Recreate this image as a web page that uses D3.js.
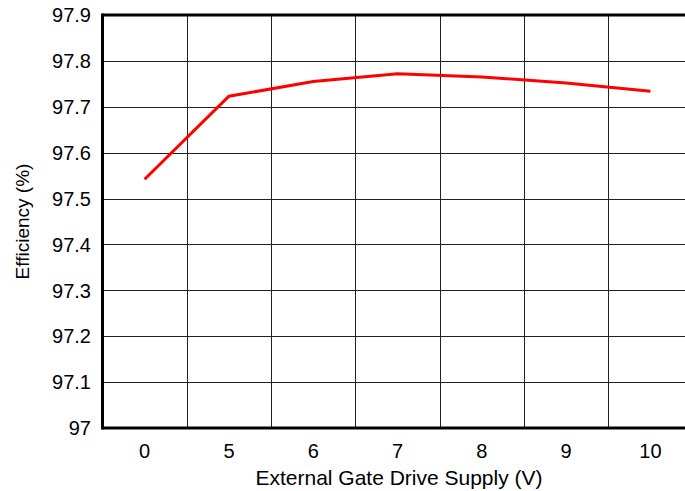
<!DOCTYPE html>
<html>
<head>
<meta charset="utf-8">
<script src="https://cdn.jsdelivr.net/npm/d3@7"></script>
<style>
  body { margin: 0; background: #fff; }
  svg { display: block; font-family: "Liberation Sans", Arial, sans-serif; }
</style>
</head>
<body>
<script>
// chart values
let supplies = ["0", "5", "6", "7", "8", "9", "10"];
let efficiency = [97.542, 97.723, 97.755, 97.772, 97.765, 97.752, 97.734];
let yTicks = [97, 97.1, 97.2, 97.3, 97.4, 97.5, 97.6, 97.7, 97.8, 97.9];

let width = 685, height = 491;
let plotLeft = 102.5, plotTop = 15, plotBottom = 428;
let bandW = 84.3;

let svg = d3.select("body").append("svg")
    .attr("width", width)
    .attr("height", height);

let x = d3.scaleBand()
    .domain(supplies)
    .range([plotLeft, plotLeft + bandW * supplies.length])
    .padding(0);

let y = d3.scaleLinear()
    .domain([97, 97.9])
    .range([plotBottom, plotTop]);

// grid lines
let grid = svg.append("g").attr("shape-rendering", "crispEdges");

grid.selectAll("line.h")
    .data(yTicks.slice(1, -1))
    .join("line")
    .attr("class", "h")
    .attr("x1", plotLeft).attr("x2", width)
    .attr("y1", d => Math.round(y(d)) + 0.5).attr("y2", d => Math.round(y(d)) + 0.5)
    .attr("stroke", "#222")
    .attr("stroke-width", 1);

grid.selectAll("line.v")
    .data(supplies.slice(1))
    .join("line")
    .attr("class", "v")
    .attr("x1", d => Math.round(x(d)) + 0.5).attr("x2", d => Math.round(x(d)) + 0.5)
    .attr("y1", plotTop).attr("y2", plotBottom)
    .attr("stroke", "#222")
    .attr("stroke-width", 1);

// frame
let frame = svg.append("g").attr("stroke", "#000").attr("stroke-width", 3);
frame.append("line").attr("x1", plotLeft).attr("x2", plotLeft).attr("y1", plotTop - 1.5).attr("y2", plotBottom + 1.5);
frame.append("line").attr("x1", plotLeft).attr("x2", width).attr("y1", plotTop).attr("y2", plotTop);
frame.append("line").attr("x1", plotLeft).attr("x2", width).attr("y1", plotBottom).attr("y2", plotBottom);

// data line
let line = d3.line()
    .x((d, i) => x(supplies[i]) + x.bandwidth() / 2)
    .y(d => y(d));

svg.append("path")
    .datum(efficiency)
    .attr("d", line)
    .attr("fill", "none")
    .attr("stroke", "#ff0000")
    .attr("stroke-width", 3)
    .attr("stroke-linejoin", "miter");

// y tick labels
svg.append("g").selectAll("text")
    .data(yTicks)
    .join("text")
    .attr("x", 91)
    .attr("y", d => y(d))
    .attr("dy", "0.36em")
    .attr("text-anchor", "end")
    .attr("font-size", 20)
    .text(d => d3.format("~g")(d));

// x tick labels
svg.append("g").selectAll("text")
    .data(supplies)
    .join("text")
    .attr("x", d => x(d) + x.bandwidth() / 2)
    .attr("y", 451)
    .attr("dy", "0.36em")
    .attr("text-anchor", "middle")
    .attr("font-size", 20)
    .text(d => d);

// axis titles
svg.append("text")
    .attr("x", 399)
    .attr("y", 477)
    .attr("dy", "0.36em")
    .attr("text-anchor", "middle")
    .attr("font-size", 21)
    .text("External Gate Drive Supply (V)");

svg.append("text")
    .attr("transform", `translate(22,${(plotTop + plotBottom) / 2}) rotate(-90)`)
    .attr("dy", "0.36em")
    .attr("text-anchor", "middle")
    .attr("font-size", 19)
    .text("Efficiency (%)");
</script>
</body>
</html>
